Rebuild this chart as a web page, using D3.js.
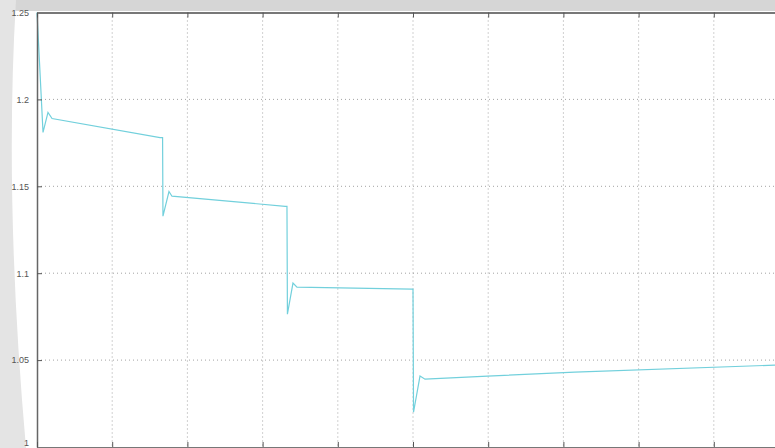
<!DOCTYPE html>
<html>
<head>
<meta charset="utf-8">
<script src="https://cdn.jsdelivr.net/npm/d3@7"></script>
<style>
  html, body { margin: 0; padding: 0; background: #ffffff; }
  svg { display: block; }
</style>
</head>
<body>
<script>
// Sampled trace: time (s) and voltage (p.u.) with step drops and short transients
const timeS = [0, 0.08, 0.146, 0.2, 1.636, 1.67, 1.675, 1.755, 1.795, 3.30, 3.324, 3.33, 3.404, 3.457, 4.987, 5.0, 5.007, 5.093, 5.16, 5.99, 7.15, 9.81, 10];
const voltagePU = [1.25, 1.181, 1.1925, 1.189, 1.178, 1.178, 1.1328, 1.147, 1.1443, 1.1385, 1.1385, 1.0764, 1.0943, 1.092, 1.0908, 1.0908, 1.020, 1.0408, 1.039, 1.0408, 1.0431, 1.0471, 1.0474];

const xTicks = [0, 1, 2, 3, 4, 5, 6, 7, 8, 9, 10];
const yTicks = [1, 1.05, 1.1, 1.15, 1.2, 1.25];
const yTickLabels = ["1", "1.05", "1.1", "1.15", "1.2", "1.25"];

const W = 775, H = 448;
const svg = d3.select("body").append("svg").attr("width", W).attr("height", H);

// Window strip and faint backdrop shapes
svg.append("rect").attr("x", 0).attr("y", 0).attr("width", W).attr("height", 11).attr("fill", "#d6d6d6");
svg.append("path")
  .attr("d", "M0,0 L16,0 Q4,200 26,448 L0,448 Z")
  .attr("fill", "#e4e4e4");

const x = d3.scaleLinear().domain([0, 10]).range([37, 789]);
const y = d3.scaleLinear().domain([1, 1.25]).range([447, 12.5]);

const plot = svg.append("g");
plot.append("rect")
  .attr("x", x(0)).attr("y", y(1.25))
  .attr("width", x(10) - x(0)).attr("height", y(1) - y(1.25))
  .attr("fill", "#ffffff");

// Dotted grid
plot.append("g").selectAll("line").data(xTicks.slice(1)).join("line")
  .attr("x1", d => x(d)).attr("x2", d => x(d))
  .attr("y1", y(1.25)).attr("y2", y(1))
  .attr("stroke", "#8c8c8c").attr("stroke-width", 0.8)
  .attr("stroke-dasharray", "1,3");
plot.append("g").selectAll("line").data(yTicks.slice(1, -1)).join("line")
  .attr("x1", x(0)).attr("x2", x(10))
  .attr("y1", d => y(d)).attr("y2", d => y(d))
  .attr("stroke", "#8c8c8c").attr("stroke-width", 0.8)
  .attr("stroke-dasharray", "1,3");

// Signal trace
const line = d3.line().x((d, i) => x(timeS[i])).y(d => y(d));
plot.append("path")
  .datum(voltagePU)
  .attr("d", line)
  .attr("fill", "none")
  .attr("stroke", "#72d0dc")
  .attr("stroke-width", 1.2);

// Axes with inward ticks
const leftAxis = d3.axisLeft(y).tickValues(yTicks)
  .tickFormat((d, i) => yTickLabels[i]).tickSizeInner(-5).tickSizeOuter(0).tickPadding(8);
const gl = svg.append("g").attr("transform", `translate(${x(0)},0)`).call(leftAxis);
gl.select(".domain").attr("stroke", "#666").attr("stroke-width", 1.5);
gl.selectAll(".tick line").attr("stroke", "#555");
gl.selectAll("text").attr("font-family", "Liberation Sans, Arial, sans-serif")
  .attr("font-size", 9).attr("fill", "#555");
// keep the lowest label inside the frame
gl.selectAll(".tick").filter(d => d === 1).select("text").attr("dy", "-0.2em");

const topAxis = d3.axisTop(x).tickValues(xTicks).tickFormat("").tickSizeInner(-5).tickSizeOuter(0);
const gt = svg.append("g").attr("transform", `translate(0,${y(1.25)})`).call(topAxis);
gt.select(".domain").attr("stroke", "#777").attr("stroke-width", 2);
gt.selectAll(".tick line").attr("stroke", "#555");

const bottomAxis = d3.axisBottom(x).tickValues(xTicks).tickFormat("").tickSizeInner(-5).tickSizeOuter(0);
const gb = svg.append("g").attr("transform", `translate(0,${y(1)})`).call(bottomAxis);
gb.select(".domain").attr("stroke", "#777").attr("stroke-width", 1);
gb.selectAll(".tick line").attr("stroke", "#555");
</script>
</body>
</html>
